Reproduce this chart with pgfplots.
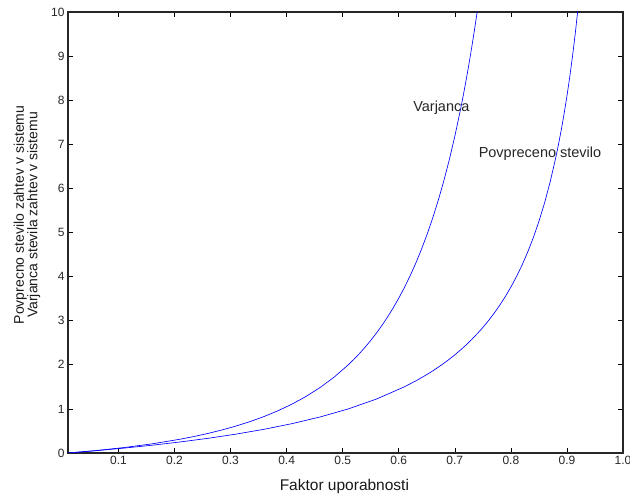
\documentclass[border=0pt]{standalone}
\usepackage{pgfplots}
\pgfplotsset{compat=1.18}
\usepackage{fontspec}
\setmainfont{Liberation Sans}
\begin{document}
\begin{tikzpicture}[x=1pt,y=1pt]
\useasboundingbox (-68,-45) rectangle (562,441+12);
\begin{axis}[
  scale only axis, width=555pt, height=441pt,
  xmin=0.01, xmax=1, ymin=0, ymax=10,
  xtick={0.1,0.2,0.3,0.4,0.5,0.6,0.7,0.8,0.9,1.0},
  xticklabels={0.1,0.2,0.3,0.4,0.5,0.6,0.7,0.8,0.9,1.0},
  ytick={0,1,...,10},
  tick align=inside, major tick length=5pt,
  tick style={black, line width=0.6pt},
  axis line style={black!85, line width=1.1pt},
  tick label style={font=\fontsize{12}{13}\selectfont, text=black!85},
  /pgf/number format/assume math mode=true,
  xlabel={Faktor uporabnosti},
  xlabel style={font=\fontsize{15.5}{17}\selectfont, at={(axis description cs:0.498,-0.075)}, anchor=center, text=black!90},
  ylabel={Povprecno stevilo zahtev v sistemu\\Varjanca stevila zahtev v sistemu},
  ylabel style={font=\fontsize{14}{13.5}\selectfont, align=center, at={(axis description cs:-0.074,0.54)}, anchor=center, text=black!90},
  clip=true,
]
\addplot[blue, line width=0.65pt] coordinates {
(0.01,0)(0.06,0.0526)(0.11,0.1111)(0.16,0.1765)(0.21,0.25)(0.26,0.3333)
(0.31,0.4286)(0.36,0.5385)(0.41,0.6667)(0.46,0.8182)(0.51,1.0)(0.56,1.2222)
(0.61,1.5)(0.63,1.6316)(0.65,1.7778)(0.66,1.8571)(0.67,1.9412)(0.68,2.0303)
(0.69,2.125)(0.70,2.2258)(0.71,2.3333)(0.72,2.4483)(0.73,2.5714)(0.74,2.7037)
(0.75,2.8462)(0.76,3.0)(0.77,3.1667)(0.78,3.3478)(0.79,3.5455)(0.80,3.7619)
(0.81,4.0)(0.82,4.2632)(0.83,4.5556)(0.84,4.8824)(0.85,5.25)(0.86,5.6667)
(0.87,6.1429)(0.88,6.6923)(0.885,7.0)(0.89,7.3333)(0.895,7.6957)(0.90,8.0909)
(0.905,8.5238)(0.91,9.0)(0.915,9.5263)(0.92,10.111)(0.93,11.5)
};
\addplot[blue, line width=0.65pt] coordinates {
(0.01,0)(0.06,0.0554)(0.11,0.1235)(0.16,0.2076)(0.21,0.3125)(0.235,0.3746)
(0.26,0.4444)(0.285,0.5232)(0.31,0.6122)(0.335,0.7133)(0.36,0.8284)(0.385,0.96)
(0.41,1.1111)(0.435,1.2854)(0.46,1.4876)(0.485,1.7234)(0.51,2.0)(0.52,2.1241)
(0.53,2.2569)(0.54,2.3993)(0.55,2.5520)(0.56,2.7160)(0.57,2.8926)(0.58,3.0828)
(0.59,3.2880)(0.60,3.5098)(0.61,3.75)(0.62,4.0105)(0.63,4.2936)(0.64,4.6019)
(0.65,4.9383)(0.66,5.3061)(0.67,5.7093)(0.68,6.1524)(0.69,6.6406)(0.70,7.1800)
(0.71,7.7778)(0.715,8.1011)(0.72,8.4423)(0.725,8.8027)(0.73,9.1837)(0.735,9.5868)
(0.74,10.0137)(0.75,10.9467)
};
\node[font=\fontsize{14.5}{16}\selectfont, text=black!85, anchor=base] at (axis cs:0.676,7.755) {Varjanca};
\node[font=\fontsize{14.5}{16}\selectfont, text=black!85, anchor=base] at (axis cs:0.852,6.69) {Povpreceno stevilo};
\end{axis}
\end{tikzpicture}
\end{document}
